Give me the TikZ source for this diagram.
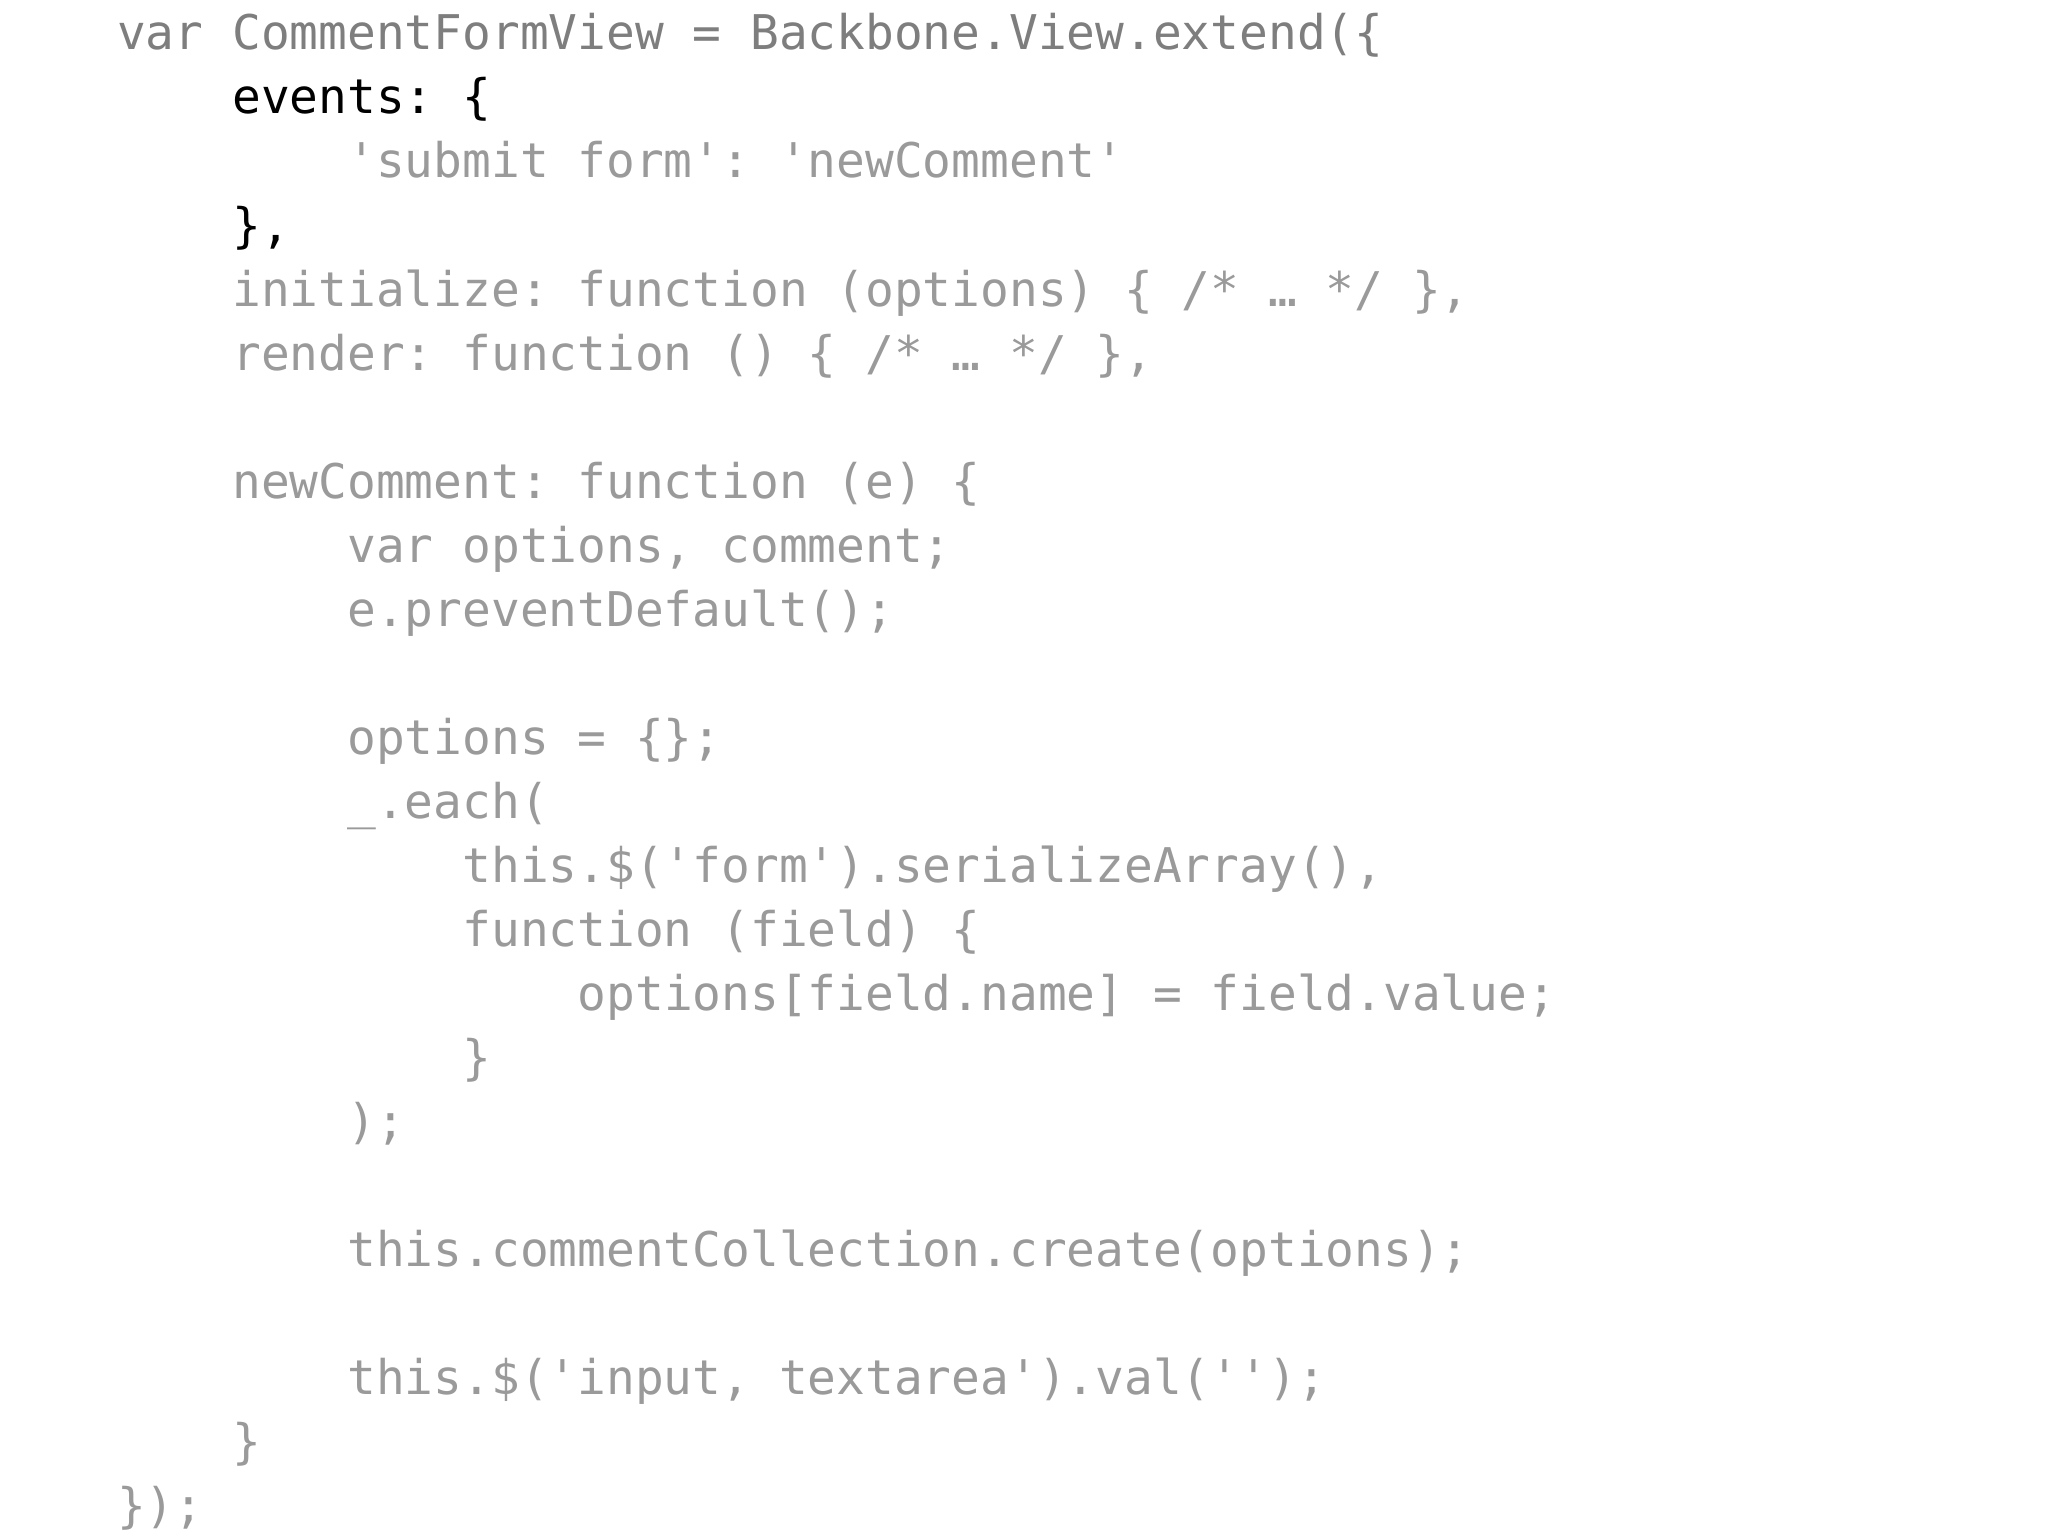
\documentclass[tikz,border=0pt]{standalone}
\usepackage{fontspec}
\setmonofont{DejaVu Sans Mono}
\definecolor{codegray}{HTML}{9A9A9A}
\definecolor{darkgray}{HTML}{7E7E7E}
\begin{document}
\begin{tikzpicture}[x=1pt,y=1pt,
  code/.style={anchor=base west,inner sep=0pt,font=\fontsize{47.8}{64}\ttfamily,text=codegray}]
\useasboundingbox (0,0) rectangle (2048,-1536);
\fill[white] (0,0) rectangle (2048,-1536);
\def\cw{28.78}
\def\ox{117}
\newcommand{\cl}[4]{\node[code,#4] (#1) at (\ox+#2*4*\cw,-50-64*#3) {#1x};}
\node[code,text=darkgray] (l0) at (\ox,-50) {var CommentFormView = Backbone.View.extend(\{};
\node[code,text=black] (l1) at (\ox+4*\cw,-114) {events: \{};
\node[code] (l2) at (\ox+8*\cw,-178) {'submit form': 'newComment'};
\node[code,text=black] (l3) at (\ox+4*\cw,-242) {\},};
\node[code] (l4) at (\ox+4*\cw,-306) {initialize: function (options) \{ /* … */ \},};
\node[code] (l5) at (\ox+4*\cw,-370) {render: function () \{ /* … */ \},};
\node[code] (l7) at (\ox+4*\cw,-498) {newComment: function (e) \{};
\node[code] (l8) at (\ox+8*\cw,-562) {var options, comment;};
\node[code] (l9) at (\ox+8*\cw,-626) {e.preventDefault();};
\node[code] (l11) at (\ox+8*\cw,-754) {options = \{\};};
\node[code] (l12) at (\ox+8*\cw,-818) {\_.each(};
\node[code] (l13) at (\ox+12*\cw,-882) {this.\$('form').serializeArray(),};
\node[code] (l14) at (\ox+12*\cw,-946) {function (field) \{};
\node[code] (l15) at (\ox+16*\cw,-1010) {options[field.name] = field.value;};
\node[code] (l16) at (\ox+12*\cw,-1074) {\}};
\node[code] (l17) at (\ox+8*\cw,-1138) {);};
\node[code] (l19) at (\ox+8*\cw,-1266) {this.commentCollection.create(options);};
\node[code] (l21) at (\ox+8*\cw,-1394) {this.\$('input, textarea').val('');};
\node[code] (l22) at (\ox+4*\cw,-1458) {\}};
\node[code] (l23) at (\ox,-1522) {\});};
\end{tikzpicture}
\end{document}
